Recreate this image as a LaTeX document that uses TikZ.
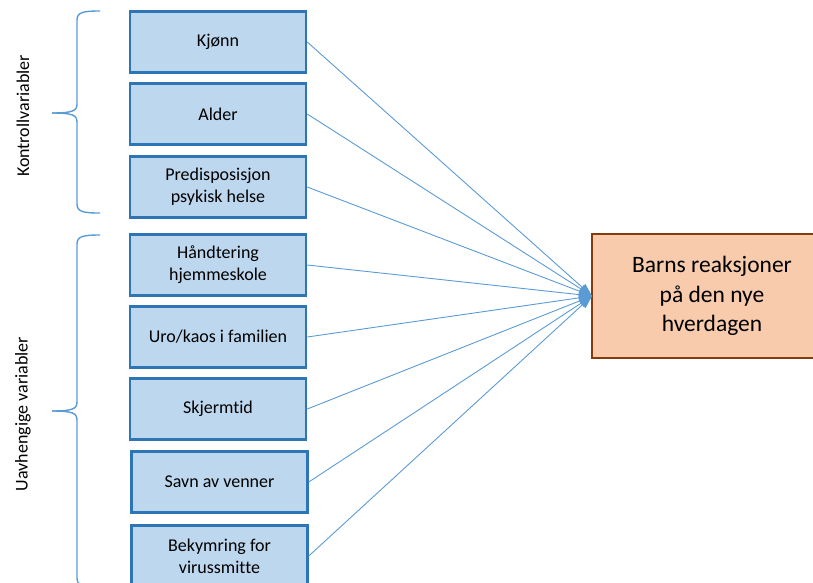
\documentclass[tikz,border=0pt]{standalone}
\usepackage{fontspec}
\setmainfont{Carlito}[Ligatures=NoCommon]
\usetikzlibrary{arrows.meta}
\definecolor{boxfill}{HTML}{BDD7EE}
\definecolor{boxline}{HTML}{2E75B6}
\definecolor{lineblue}{HTML}{5B9BD5}
\definecolor{outfill}{HTML}{F8CBAD}
\definecolor{outline}{HTML}{843C0C}
\begin{document}
\begin{tikzpicture}[x=1pt,y=-1pt,
  varbox/.style={draw=boxline, fill=boxfill, line width=2.5pt, minimum width=176pt, minimum height=61pt,
    inner sep=0pt, align=center, font=\fontsize{18}{22}\selectfont},
  outbox/.style={draw=outline, fill=outfill, line width=2.5pt, minimum width=240pt, minimum height=124pt,
    inner sep=0pt, align=center, font=\fontsize{23.5}{29.5}\selectfont},
  conn/.style={draw=lineblue, line width=0.9pt, -{Triangle[length=13pt,width=9pt]}},
  bracestyle/.style={draw=lineblue, line width=1.4pt},
  sidelabel/.style={rotate=90, font=\fontsize{18}{22}\selectfont}]
\useasboundingbox (0,0) rectangle (813,582);
\clip (0,0) rectangle (813,582);
\node[varbox] (kj) at (218,42) {Kjønn};
\node[varbox] (al) at (218,114) {Alder};
\node[varbox] (pr) at (218,187) {Predisposisjon\\psykisk helse};
\node[varbox] (ha) at (218,265) {Håndtering\\hjemmeskole};
\node[varbox] (ur) at (218,337) {Uro/kaos i familien};
\node[varbox] (sk) at (218,409) {Skjermtid};
\node[varbox] (sa) at (219.5,482) {Savn av venner};
\node[varbox] (be) at (219.5,556) {Bekymring for\\virussmitte};
\node[outbox] (out) at (712,296) {Barns reaksjoner\\på den nye\\hverdagen};
\coordinate (tip) at (592,296);
\foreach \n in {kj,al,pr,ha,ur,sk,sa,be} {
  \draw[conn] (\n.east) -- (tip);
}
% braces
\draw[bracestyle] (100,11) .. controls (84,11) and (77,12) .. (77,20) -- (77,104)
  .. controls (77,111) and (72,113) .. (52,113);
\draw[bracestyle] (100,213) .. controls (84,213) and (77,212) .. (77,204) -- (77,122)
  .. controls (77,115) and (72,113) .. (52,113);
\draw[bracestyle] (100,235) .. controls (84,235) and (77,236) .. (77,244) -- (77,402)
  .. controls (77,409) and (72,411) .. (52,411);
\draw[bracestyle] (100,587) .. controls (84,587) and (77,586) .. (77,578) -- (77,420)
  .. controls (77,413) and (72,411) .. (52,411);
\node[sidelabel] (kv) at (23,116) {Kontrollvariabler};
\node[sidelabel] (uv) at (23,414) {Uavhengige variabler};
\end{tikzpicture}
\end{document}
